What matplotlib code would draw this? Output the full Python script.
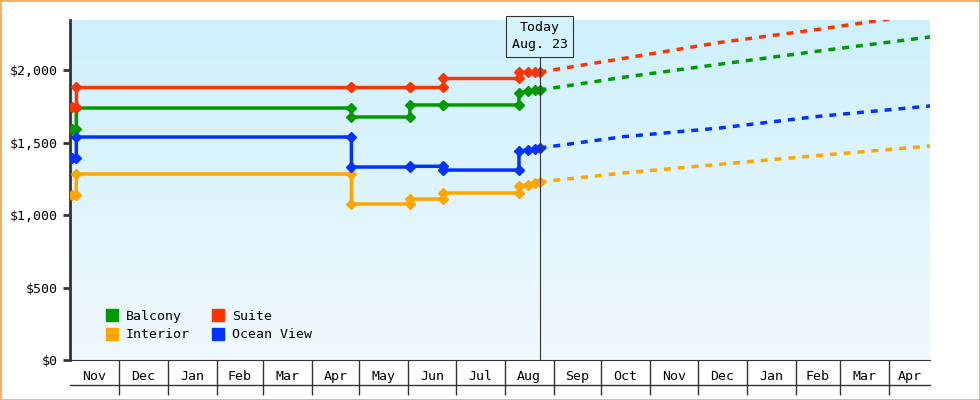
import numpy as np
import matplotlib
matplotlib.use("Agg")
import matplotlib.pyplot as plt
import matplotlib.dates as mdates
from matplotlib.lines import Line2D
from datetime import date

plt.rcParams["font.family"] = "DejaVu Sans Mono"

# DATA (history points, vertical steps drawn with both ends)
HIST_DATES = ["2023-11-01", "2023-11-04", "2023-11-04", "2024-04-26", "2024-04-26",
              "2024-06-02", "2024-06-02", "2024-06-23", "2024-06-23", "2024-08-10",
              "2024-08-10", "2024-08-16", "2024-08-20", "2024-08-23"]
suite    = [1745, 1745, 1883, 1883, 1883, 1883, 1883, 1883, 1945, 1945, 1986, 1986, 1986, 1986]
balcony  = [1593, 1593, 1738, 1738, 1676, 1676, 1759, 1759, 1759, 1759, 1841, 1855, 1860, 1862]
ocean    = [1393, 1393, 1538, 1538, 1331, 1331, 1336, 1336, 1310, 1310, 1441, 1448, 1455, 1462]
interior = [1138, 1138, 1283, 1283, 1076, 1076, 1110, 1110, 1152, 1152, 1200, 1210, 1220, 1228]

FC_DATES = ["2024-08-23", "2024-10-15", "2024-12-15", "2025-02-15", "2025-04-27"]
suite_fc    = [1986, 2080, 2190, 2280, 2393]
balcony_fc  = [1862, 1950, 2040, 2130, 2228]
ocean_fc    = [1462, 1540, 1600, 1680, 1752]
interior_fc = [1228, 1290, 1350, 1410, 1476]

SERIES = [("Balcony", balcony, balcony_fc, "#009900"),
          ("Interior", interior, interior_fc, "#ffa500"),
          ("Suite", suite, suite_fc, "#ff3300"),
          ("Ocean View", ocean, ocean_fc, "#0033ff")]

MONTHS = ["Nov", "Dec", "Jan", "Feb", "Mar", "Apr", "May", "Jun", "Jul", "Aug",
          "Sep", "Oct", "Nov", "Dec", "Jan", "Feb", "Mar", "Apr"]

START = date(2023, 11, 1)
END = date(2025, 4, 27)
TODAY = date(2024, 8, 23)

hd = mdates.datestr2num(HIST_DATES)
fd = mdates.datestr2num(FC_DATES)

fig = plt.figure(figsize=(9.8, 4), dpi=100)
fig.patches.append(plt.Rectangle((0, 0), 1, 1, transform=fig.transFigure,
                                 fill=False, edgecolor="#f0b060", linewidth=2))
ax = fig.add_axes([70 / 980, 40 / 400, 860 / 980, 340 / 400])
x0, x1 = mdates.date2num(START) - 1, mdates.date2num(END)
ax.set_xlim(x0, x1)
ax.set_ylim(0, 2345)

grad = np.linspace(0, 1, 256).reshape(-1, 1)
ax.imshow(grad, extent=[x0, x1, 0, 2345], aspect="auto", origin="lower",
          cmap=matplotlib.colors.LinearSegmentedColormap.from_list("bg", ["#f0f9fe", "#cdf0fc"]),
          zorder=0)

for name, h, f, c in SERIES:
    ax.plot(hd, h, "-", color=c, lw=2.5, marker="D", ms=5, zorder=3)
    ax.plot(fd, f, "--", color=c, lw=2.5, dashes=(2, 2), zorder=3)

tx = mdates.date2num(TODAY)
ax.axvline(tx, color="#333333", lw=0.8, zorder=4)
ax.text(tx, 2335, "Today\nAug. 23", ha="center", va="top", fontsize=9.5, zorder=5,
        linespacing=1.4,
        bbox=dict(boxstyle="square,pad=0.4", fc="#d4f2fc", ec="#333333", lw=0.8))

# month cells below the axis
bounds = [mdates.date2num(date(2023 + (10 + i) // 12, (10 + i) % 12 + 1, 1)) for i in range(19)]
bounds = [b for b in bounds if b < x1]
ax.set_xticks(bounds[1:])
ax.set_xticklabels([])
ax.tick_params(axis="x", which="major", direction="out", length=25, width=1, color="#333333")
mids = [(a + b) / 2 for a, b in zip([x0] + bounds[1:], bounds[1:] + [x1])]
ax.set_xticks(mids, minor=True)
ax.set_xticklabels(MONTHS, minor=True, fontsize=9.5)
ax.tick_params(axis="x", which="minor", length=0, pad=7)
ax.add_line(Line2D([0, 1], [-25 / 340, -25 / 340], transform=ax.transAxes,
                   color="#333333", lw=1, clip_on=False))

ax.set_yticks([0, 500, 1000, 1500, 2000])
ax.set_yticklabels(["$0", "$500", "$1,000", "$1,500", "$2,000"], fontsize=9.5)
ax.tick_params(axis="y", direction="out", length=5, width=2, color="#333333")
for s in ["top", "right"]:
    ax.spines[s].set_visible(False)
ax.spines["left"].set_linewidth(2)
ax.spines["left"].set_color("#333333")
ax.spines["bottom"].set_color("#333333")

handles = [Line2D([], [], marker="s", ls="", color=c, ms=9, label=n) for n, _, _, c in SERIES]
ax.legend(handles=handles, ncol=2, loc="lower left", frameon=False, fontsize=9.5,
          handletextpad=0.0, columnspacing=1.2, labelspacing=0.4,
          bbox_to_anchor=(0.02, 0.02))

fig.savefig("out.png", dpi=100)
